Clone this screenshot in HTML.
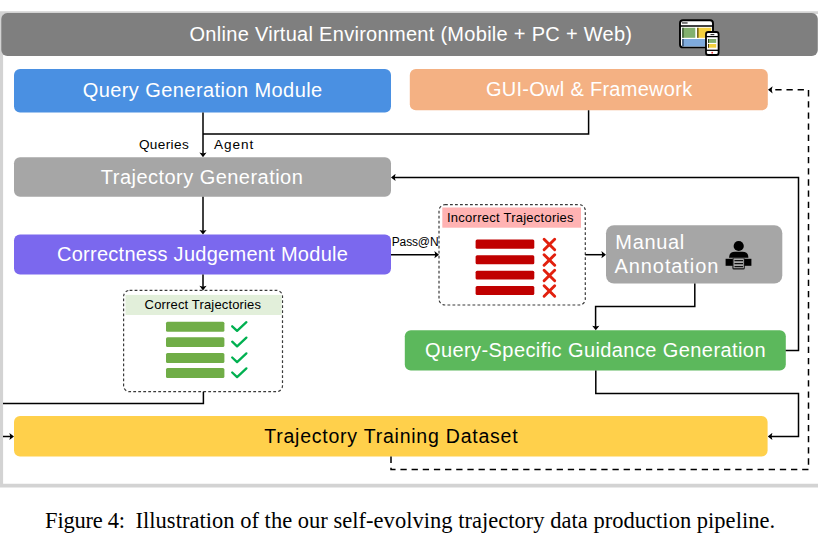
<!DOCTYPE html>
<html><head><meta charset="utf-8">
<style>
html,body{margin:0;padding:0;background:#fff;width:818px;height:535px;overflow:hidden}
svg{display:block}
text{font-family:"Liberation Sans",sans-serif}
.w{fill:#fff}
</style></head>
<body>
<svg width="818" height="535" viewBox="0 0 818 535">
<defs>
<marker id="ah" viewBox="0 0 10 10" refX="10" refY="5" markerWidth="5" markerHeight="7" markerUnits="userSpaceOnUse" orient="auto">
<path d="M10 5 L0 0 L3.5 5 L0 10 Z" fill="#000"/>
</marker>
</defs>
<!-- outer frame -->
<path d="M0 11.2 H818 V14 H3.1 V483.7 H818 V487.6 H0 Z" fill="#d3d3d3"/>
<!-- header -->
<rect x="1.3" y="13" width="816.5" height="43" rx="6" fill="#7f7f7f"/>
<text x="189.5" y="41" font-size="20" class="w" textLength="442.5">Online Virtual Environment (Mobile + PC + Web)</text>

<!-- header icon -->
<g>
<rect x="680" y="20.2" width="33" height="27.2" rx="3" fill="#fff" stroke="#000" stroke-width="1.9"/>
<line x1="680" y1="26" x2="713" y2="26" stroke="#000" stroke-width="1.5"/>
<rect x="682" y="22.2" width="5.6" height="1.5" fill="#555"/>
<rect x="682.3" y="27.8" width="13" height="10" fill="#82b06e"/>
<rect x="682.3" y="27.8" width="1.3" height="10" fill="#2f4a2a"/>
<rect x="697.2" y="27.8" width="14" height="10" fill="#f3d03e"/>
<rect x="697.2" y="27.8" width="1.3" height="10" fill="#5a4a10"/>
<rect x="682.3" y="39" width="29" height="7.4" fill="#7eaadc"/>
<rect x="682.3" y="39" width="1.3" height="7.4" fill="#2a3f5a"/>
<rect x="706" y="32" width="12.6" height="23" rx="2.3" fill="#fff" stroke="#000" stroke-width="1.8"/>
<line x1="706" y1="36.6" x2="718.6" y2="36.6" stroke="#000" stroke-width="1.3"/>
<line x1="706" y1="50.3" x2="718.6" y2="50.3" stroke="#000" stroke-width="1.3"/>
<rect x="710.5" y="34.1" width="3.8" height="1" fill="#222"/>
<rect x="708" y="39" width="8.2" height="3.9" fill="#82b06e"/>
<rect x="708" y="39" width="1" height="3.9" fill="#2f4a2a"/>
<rect x="708" y="44" width="8.2" height="3.7" fill="#f3d03e"/>
<rect x="708" y="44" width="1" height="3.7" fill="#5a4a10"/>
<circle cx="712.2" cy="52.7" r="0.9" fill="#e33"/>
</g>

<!-- boxes -->
<rect x="14" y="69" width="377" height="43.5" rx="6" fill="#4a90e2"/>
<text x="82.7" y="97" font-size="20" class="w" textLength="239.5">Query Generation Module</text>

<rect x="409.8" y="69" width="358" height="41.3" rx="6" fill="#f4b183"/>
<text x="485.9" y="96" font-size="20" class="w" textLength="206.3">GUI-Owl &amp; Framework</text>

<rect x="14" y="157.2" width="377" height="39.6" rx="6" fill="#a6a6a6"/>
<text x="100.8" y="183.8" font-size="20" class="w" textLength="202">Trajectory Generation</text>

<rect x="14" y="234.5" width="377" height="40" rx="6" fill="#7b68ee"/>
<text x="56.9" y="260.8" font-size="20" class="w" textLength="291">Correctness Judgement Module</text>

<rect x="606" y="225.2" width="176.3" height="58.4" rx="8" fill="#a6a6a6"/>
<text x="615.3" y="248.8" font-size="20" class="w" textLength="69">Manual</text>
<text x="614.6" y="272.6" font-size="20" class="w" textLength="103.7">Annotation</text>

<rect x="404.8" y="330.3" width="381" height="40.3" rx="6" fill="#5cb85c"/>
<text x="425" y="357.2" font-size="20" class="w" textLength="340.5">Query-Specific Guidance Generation</text>

<rect x="14" y="416" width="753.6" height="40.6" rx="6" fill="#ffd04b"/>
<text x="264.2" y="442.9" font-size="19.5" fill="#000" textLength="253.4">Trajectory Training Dataset</text>

<!-- person icon -->
<g fill="#000">
<circle cx="738.7" cy="246" r="5.1"/>
<path d="M729.1 257.8 Q729.1 251.8 735 251.8 L742.5 251.8 Q748.4 251.8 748.4 257.8 Z"/>
<rect x="725.6" y="258.8" width="25.8" height="7" />
<rect x="732.4" y="257.7" width="12.4" height="11.8" rx="1.6" fill="#161616"/>
<rect x="733.5" y="258.4" width="10.3" height="9.8" fill="#a9a9a9"/>
<rect x="734.5" y="260.1" width="8.5" height="1.1" fill="#000"/>
<rect x="734.5" y="263.1" width="8.5" height="1.1" fill="#000"/>
<rect x="734.5" y="266.1" width="8.5" height="1.1" fill="#000"/>
</g>

<!-- labels -->
<text x="138.9" y="149.4" font-size="13.6" fill="#000" textLength="49.8">Queries</text>
<text x="213.9" y="149.4" font-size="13.6" fill="#000" textLength="39.4">Agent</text>
<text x="391.7" y="246" font-size="12" fill="#000" textLength="46.9">Pass@N</text>

<!-- Correct trajectories box -->
<rect x="123.6" y="290.4" width="158.9" height="101.3" rx="6" fill="#fff" stroke="#3a3a3a" stroke-width="1.2" stroke-dasharray="2.8 2.2"/>
<rect x="125.5" y="294.9" width="156.2" height="20.1" fill="#e2efda"/>
<text x="144.6" y="308.7" font-size="13" fill="#000" textLength="116.4">Correct Trajectories</text>
<g fill="#70ad47">
<rect x="166" y="321.8" width="58.4" height="9.9" rx="1.5"/>
<rect x="166" y="337.2" width="58.4" height="9.9" rx="1.5"/>
<rect x="166" y="353" width="58.4" height="9.9" rx="1.5"/>
<rect x="166" y="368" width="58.4" height="9.9" rx="1.5"/>
</g>
<g fill="none" stroke="#00b050" stroke-width="2.3" stroke-linecap="round" stroke-linejoin="round">
<path d="M232.2 326.3 L237.1 330.9 L246.4 322.2"/>
<path d="M232.2 341.7 L237.1 346.3 L246.4 337.6"/>
<path d="M232.2 357.5 L237.1 362.1 L246.4 353.4"/>
<path d="M232.2 372.5 L237.1 377.1 L246.4 368.4"/>
</g>

<!-- Incorrect trajectories box -->
<rect x="439" y="204.7" width="146.3" height="100.3" rx="6" fill="#fff" stroke="#3a3a3a" stroke-width="1.2" stroke-dasharray="2.8 2.2"/>
<rect x="442.3" y="207.5" width="138.7" height="20.2" fill="#ffb3b3"/>
<text x="447" y="221.9" font-size="13" fill="#000" textLength="126.6">Incorrect Trajectories</text>
<g fill="#c00000">
<rect x="475.6" y="239.5" width="58.7" height="9.3" rx="1.5"/>
<rect x="475.6" y="255.2" width="58.7" height="9" rx="1.5"/>
<rect x="475.6" y="270.7" width="58.7" height="8.8" rx="1.5"/>
<rect x="475.6" y="286" width="58.7" height="9" rx="1.5"/>
</g>
<g fill="none" stroke="#e2200e" stroke-width="2.9" stroke-linecap="round">
<path d="M544.1 239.2 L554.7 249.8 M554.7 239.2 L544.1 249.8"/>
<path d="M544.1 254.7 L554.7 265.3 M554.7 254.7 L544.1 265.3"/>
<path d="M544.1 270.2 L554.7 280.8 M554.7 270.2 L544.1 280.8"/>
<path d="M544.1 285.7 L554.7 296.3 M554.7 285.7 L544.1 296.3"/>
</g>

<!-- connectors -->
<g fill="none" stroke="#000" stroke-width="1.5">
<path d="M203 112.5 V155"/>
<path d="M588.6 110.3 V134 H203"/>
<path d="M203 196.8 V232"/>
<path d="M203 274.5 V288"/>
<path d="M391 254.7 H437"/>
<path d="M585.3 254.7 H604"/>
<path d="M694.8 283.6 V306.6 H595.6 V328"/>
<path d="M785.7 350.5 H798.5 V177.4 H393"/>
<path d="M595.8 370.6 V393.5 H798.5 V436.4 H770"/>
<path d="M203.4 391.7 V403.4 H3"/>
<path d="M3 436.5 H12"/>
<path d="M391 456.6 V469.5 H808.5 V89.8 H770" stroke-dasharray="6.3 4.86"/>
</g>
<path fill="#000" d="M203.0 157.2 L199.4 152.6 L203.0 153.5 L206.6 152.6 Z M203.0 234.5 L199.4 229.9 L203.0 230.8 L206.6 229.9 Z M203.0 290.4 L199.4 285.8 L203.0 286.7 L206.6 285.8 Z M439.0 254.7 L434.4 251.1 L435.3 254.7 L434.4 258.3 Z M606.0 254.7 L601.4 251.1 L602.3 254.7 L601.4 258.3 Z M595.8 330.3 L592.2 325.7 L595.8 326.6 L599.4 325.7 Z M391.0 177.4 L395.6 173.8 L394.7 177.4 L395.6 181.0 Z M767.8 436.4 L772.4 432.8 L771.5 436.4 L772.4 440.0 Z M14.0 436.5 L9.4 432.9 L10.3 436.5 L9.4 440.1 Z M768.0 89.8 L772.6 86.2 L771.7 89.8 L772.6 93.4 Z"/>

<!-- caption -->
<text x="45.1" y="527.9" font-size="22.5" fill="#000" style="font-family:'Liberation Serif',serif" textLength="80">Figure 4:</text>
<text x="135.5" y="527.9" font-size="22.5" fill="#000" style="font-family:'Liberation Serif',serif" textLength="639.6">Illustration of the our self-evolving trajectory data production pipeline.</text>
</svg>
</body></html>
